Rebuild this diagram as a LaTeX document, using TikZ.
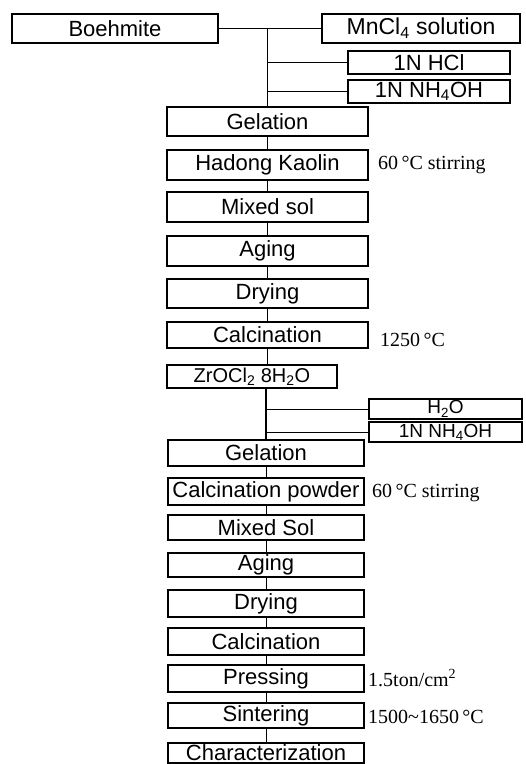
\documentclass[tikz,border=0pt]{standalone}
\usepackage{fontspec}
\setmainfont{Liberation Serif}
\setsansfont{Liberation Sans}
\usetikzlibrary{positioning}

\begin{document}
\begin{tikzpicture}[x=1pt,y=-1pt,on grid,
  box/.style={draw,line width=1.3pt,inner sep=0pt,minimum width=201pt,minimum height=29pt,font=\fontsize{22}{24}\selectfont\sffamily},
  lowbox/.style={box,minimum width=196pt,minimum height=27pt},
  addbox/.style={box,minimum width=162pt,minimum height=23pt},
  note/.style={anchor=west,inner sep=0pt,font=\fontsize{20}{24}\selectfont\rmfamily},
  link/.style={line width=1pt}]
\useasboundingbox (0,0) rectangle (526,764);
% alumina sol
\node[box,minimum width=206pt] (boeh) at (115,28.5) {Boehmite};
\node[box,minimum width=198pt,font=\fontsize{23}{24}\selectfont\sffamily] (mncl) at (421,28.5) {MnCl\textsubscript{4} solution};
\node[addbox] (hcl) at (429,62.5) {1N HCl};
\node[addbox] (nha) at (429,91.5) {1N NH\textsubscript{4}OH};
\node[box] (gela) at (267.5,121.5) {Gelation};
\node[box,minimum height=30pt,below=43.5pt of gela] (kaol) {Hadong Kaolin};
\node[box,minimum height=30pt,below=42pt of kaol] (mixa) {Mixed sol};
\node[box,minimum height=30pt,below=44pt of mixa] (aga) {Aging};
\node[box,below=42.5pt of aga] (drya) {Drying};
\node[box,minimum height=26pt,below=41.5pt of drya] (calca) {Calcination};
\node[note] (ta) at (378,165) {60\,°C stirring};
\node[note] (tb) at (380,340) {1250\,°C};
% zirconia sol
\node[box,minimum width=170pt,minimum height=23pt,font=\fontsize{20}{24}\selectfont\sffamily] (zr) at (252,376.5) {ZrOCl\textsubscript{2} 8H\textsubscript{2}O};
\node[addbox,minimum width=153pt,minimum height=20pt,font=\fontsize{19}{22}\selectfont\sffamily] (h2o) at (445.5,409) {H\textsubscript{2}O};
\node[addbox,minimum width=153pt,minimum height=20pt,font=\fontsize{19}{22}\selectfont\sffamily] (nhb) at (445.5,432) {1N NH\textsubscript{4}OH};
\node[lowbox,minimum height=26pt] (gelb) at (266,453) {Gelation};
\node[lowbox,below=38.5pt of gelb] (cpow) {Calcination powder};
\node[lowbox,minimum height=25pt,below=36pt of cpow] (mixb) {Mixed Sol};
\node[lowbox,minimum height=24pt,below=37.5pt of mixb] (agb) {Aging};
\node[lowbox,below=38.5pt of agb] (dryb) {Drying};
\node[lowbox,below=38pt of dryb] (calcb) {Calcination};
\node[lowbox,below=37pt of calcb] (press) {Pressing};
\node[lowbox,minimum height=25pt,below=37pt of press] (sint) {Sintering};
\node[lowbox,minimum height=20pt,below=37.5pt of sint] (chz) {Characterization};
\node[note] (tc) at (372,493) {60\,°C stirring};
\node[note] (td) at (368,678) {1.5ton/cm\textsuperscript{2}};
\node[note] (te) at (368,717) {1500\textasciitilde1650\,°C};
% connectors
\draw[link] (boeh) -- (mncl);
\draw[link] (boeh.east -| gela.north) -- (gela.north);
\draw[link] (hcl.west) -- (hcl.west -| gela.north);
\draw[link] (nha.west) -- (nha.west -| gela.north);
\foreach \a/\b in {gela/kaol,kaol/mixa,mixa/aga,aga/drya,drya/calca}
  \draw[link] (\a) -- (\b);
\draw[link] (calca.south) -- (calca.south |- zr.north);
\draw[link,line width=1.4pt] (zr.south -| gelb.north) -- (gelb.north);
\draw[link] (h2o.west) -- (h2o.west -| gelb.north);
\draw[link] (nhb.west) -- (nhb.west -| gelb.north);
\foreach \a/\b in {gelb/cpow,cpow/mixb,mixb/agb,agb/dryb,dryb/calcb,calcb/press,press/sint,sint/chz}
  \draw[link] (\a) -- (\b);
\end{tikzpicture}
\end{document}
